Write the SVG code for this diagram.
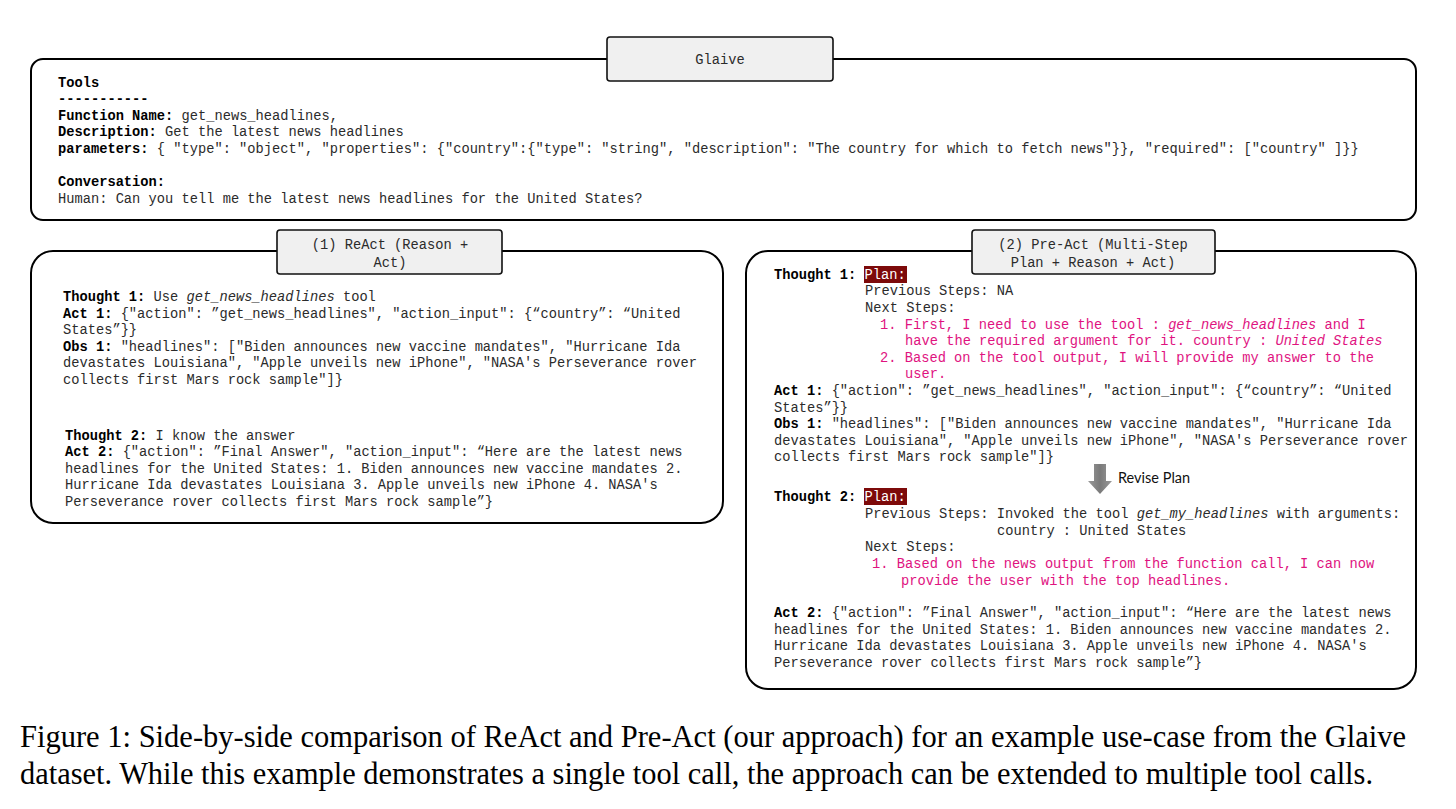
<svg xmlns="http://www.w3.org/2000/svg" width="1456" height="809" viewBox="0 0 1456 809">
<defs>
<style>
.m{font-family:"Liberation Mono","DejaVu Sans Mono",monospace;font-size:13.73px;fill:#2b2b2b}
.b{font-weight:bold;fill:#000}
.i{font-style:italic}
.pk{fill:#e0137f}
.box{fill:#fff;stroke:#000;stroke-width:2}
.lbl{fill:#f0f0f0;stroke:#111;stroke-width:1.6}
.hl{fill:#7d0a0a}
.w{fill:#fff}
.cap{font-family:"Liberation Serif","Times New Roman",serif;font-size:31px;fill:#000}
</style>
<linearGradient id="ag" x1="0" y1="0" x2="1" y2="0">
<stop offset="0" stop-color="#9a9a9a"/>
<stop offset="0.5" stop-color="#7a7a7a"/>
<stop offset="1" stop-color="#9a9a9a"/>
</linearGradient>
</defs>
<rect width="1456" height="809" fill="#fff"/>

<g id="glaive">
<rect class="box" x="31" y="59" width="1385" height="161" rx="12"/>
<rect class="lbl" x="607" y="37" width="226" height="44" rx="3"/>
<text class="m" x="720" y="64" text-anchor="middle">Glaive</text>
<text class="m" x="58" y="87"><tspan class="b">Tools</tspan></text>
<text class="m" x="58" y="103"><tspan class="b">-----------</tspan></text>
<text class="m" x="58" y="120"><tspan class="b">Function Name:</tspan> get_news_headlines,</text>
<text class="m" x="58" y="136"><tspan class="b">Description:</tspan> Get the latest news headlines</text>
<text class="m" x="58" y="153" xml:space="preserve"><tspan class="b">parameters:</tspan> { "type": "object", "properties": {"country":{"type": "string", "description": "The country for which to fetch news"}}, "required": ["country" ]}}</text>
<text class="m" x="58" y="186"><tspan class="b">Conversation:</tspan></text>
<text class="m" x="58" y="203">Human: Can you tell me the latest news headlines for the United States?</text>
</g>

<g id="react">
<rect class="box" x="31" y="251" width="692" height="272" rx="22"/>
<rect class="lbl" x="277" y="230" width="225" height="44" rx="3"/>
<text class="m" x="390" y="249" text-anchor="middle">(1) ReAct (Reason +</text>
<text class="m" x="390" y="267" text-anchor="middle">Act)</text>
<text class="m" x="63" y="301"><tspan class="b">Thought 1:</tspan> Use <tspan class="i">get_news_headlines</tspan> tool</text>
<text class="m" x="63" y="318"><tspan class="b">Act 1:</tspan> {"action": ”get_news_headlines", "action_input": {“country”: “United</text>
<text class="m" x="63" y="334">States”}}</text>
<text class="m" x="63" y="351"><tspan class="b">Obs 1:</tspan> "headlines": ["Biden announces new vaccine mandates", "Hurricane Ida</text>
<text class="m" x="63" y="367">devastates Louisiana", "Apple unveils new iPhone", "NASA's Perseverance rover</text>
<text class="m" x="63" y="384">collects first Mars rock sample"]}</text>
<text class="m" x="65" y="440"><tspan class="b">Thought 2:</tspan> I know the answer</text>
<text class="m" x="65" y="456"><tspan class="b">Act 2:</tspan> {"action": ”Final Answer", "action_input": “Here are the latest news</text>
<text class="m" x="65" y="473">headlines for the United States: 1. Biden announces new vaccine mandates 2.</text>
<text class="m" x="65" y="489">Hurricane Ida devastates Louisiana 3. Apple unveils new iPhone 4. NASA's</text>
<text class="m" x="65" y="506">Perseverance rover collects first Mars rock sample”}</text>
</g>

<g id="preact">
<rect class="box" x="746" y="251" width="670" height="438" rx="22"/>
<rect class="lbl" x="972" y="230" width="243" height="44" rx="3"/>
<text class="m" x="1093" y="249" text-anchor="middle">(2) Pre-Act (Multi-Step</text>
<text class="m" x="1093" y="267" text-anchor="middle">Plan + Reason + Act)</text>
<rect class="hl" x="864" y="266" width="43" height="17"/>
<text class="m" x="774" y="279"><tspan class="b">Thought 1:</tspan> <tspan class="w">Plan:</tspan></text>
<text class="m" x="865" y="295">Previous Steps: NA</text>
<text class="m" x="865" y="312">Next Steps:</text>
<text class="m pk" x="880" y="329">1. First, I need to use the tool : <tspan class="i">get_news_headlines</tspan> and I</text>
<text class="m pk" x="905" y="345">have the required argument for it. country : <tspan class="i">United States</tspan></text>
<text class="m pk" x="880" y="362">2. Based on the tool output, I will provide my answer to the</text>
<text class="m pk" x="905" y="378">user.</text>
<text class="m" x="774" y="395"><tspan class="b">Act 1:</tspan> {"action": ”get_news_headlines", "action_input": {“country”: “United</text>
<text class="m" x="774" y="412">States”}}</text>
<text class="m" x="774" y="428"><tspan class="b">Obs 1:</tspan> "headlines": ["Biden announces new vaccine mandates", "Hurricane Ida</text>
<text class="m" x="774" y="445">devastates Louisiana", "Apple unveils new iPhone", "NASA's Perseverance rover</text>
<text class="m" x="774" y="461">collects first Mars rock sample"]}</text>
<polygon points="1094,464 1106,464 1106,481 1112,481 1100,494 1088,481 1094,481" fill="url(#ag)"/>
<text x="1118" y="483" font-family="Lato,'Open Sans',sans-serif" font-size="14.5" fill="#111">Revise Plan</text>
<rect class="hl" x="864" y="488" width="43" height="17"/>
<text class="m" x="774" y="501"><tspan class="b">Thought 2:</tspan> <tspan class="w">Plan:</tspan></text>
<text class="m" x="865" y="518">Previous Steps: Invoked the tool <tspan class="i">get_my_headlines</tspan> with arguments:</text>
<text class="m" x="997" y="535">country : United States</text>
<text class="m" x="865" y="551">Next Steps:</text>
<text class="m pk" x="872" y="568">1. Based on the news output from the function call, I can now</text>
<text class="m pk" x="901" y="585">provide the user with the top headlines.</text>
<text class="m" x="774" y="617"><tspan class="b">Act 2:</tspan> {"action": ”Final Answer", "action_input": “Here are the latest news</text>
<text class="m" x="774" y="634">headlines for the United States: 1. Biden announces new vaccine mandates 2.</text>
<text class="m" x="774" y="650">Hurricane Ida devastates Louisiana 3. Apple unveils new iPhone 4. NASA's</text>
<text class="m" x="774" y="667">Perseverance rover collects first Mars rock sample”}</text>
</g>

<g id="connectors"></g>

<g id="caption">
<text class="cap" x="20" y="747" textLength="1386" lengthAdjust="spacingAndGlyphs">Figure 1: Side-by-side comparison of ReAct and Pre-Act (our approach) for an example use-case from the Glaive</text>
<text class="cap" x="20" y="784" textLength="1353" lengthAdjust="spacingAndGlyphs">dataset. While this example demonstrates a single tool call, the approach can be extended to multiple tool calls.</text>
</g>
</svg>
